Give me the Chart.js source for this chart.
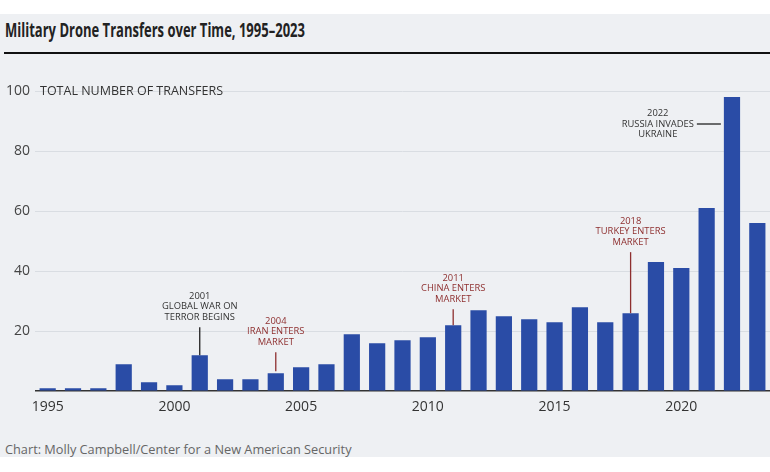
<!DOCTYPE html>
<html>
<head>
<meta charset="utf-8">
<script src="https://cdn.jsdelivr.net/npm/chart.js@4.4.1/dist/chart.umd.min.js"></script>
<style>
  body { margin: 0; width: 770px; height: 472px; overflow: hidden; background: #fff; font-family: "Open Sans", sans-serif; }
  #panel { position: absolute; left: 0; top: 14px; width: 770px; height: 443px; background: #eef0f3; }
  #title { position: absolute; left: 5px; top: 17px; font-size: 19px; font-weight: 700; color: #222; white-space: nowrap; transform-origin: 0 0; }
  #rule { position: absolute; left: 4px; right: 0; top: 52px; height: 2px; background: #111; }
  #credit { position: absolute; left: 5px; top: 440px; font-size: 13px; color: #666; white-space: nowrap; transform-origin: 0 0; }
  #wrap { position: absolute; left: 0; top: 0; width: 770px; height: 472px; }
</style>
</head>
<body>
<div id="panel"></div>
<div id="title">Military Drone Transfers over Time, 1995–2023</div>
<div id="rule"></div>
<div id="credit">Chart: Molly Campbell/Center for a New American Security</div>
<div id="wrap"><canvas id="drones" width="770" height="472"></canvas></div>

<script>
// donnees
const years = ['1995','1996','1997','1998','1999','2000','2001','2002','2003','2004',
               '2005','2006','2007','2008','2009','2010','2011','2012','2013','2014',
               '2015','2016','2017','2018','2019','2020','2021','2022','2023'];
const transfers = [1, 1, 1, 9, 3, 2, 12, 4, 4, 6,
                   8, 9, 19, 16, 17, 18, 22, 27, 25, 24,
                   23, 28, 23, 26, 43, 41, 61, 98, 56];
const yTicks = [0, 20, 40, 60, 80, 100];
const xTickYears = ['1995', '2000', '2005', '2010', '2015', '2020'];
const axisLabel = 'TOTAL NUMBER OF TRANSFERS';

// evenements annotes
const eventYears = ['2001', '2004', '2011', '2018', '2022'];
const eventTexts = [
  ['2001', 'GLOBAL WAR ON', 'TERROR BEGINS'],
  ['2004', 'IRAN ENTERS', 'MARKET'],
  ['2011', 'CHINA ENTERS', 'MARKET'],
  ['2018', 'TURKEY ENTERS', 'MARKET'],
  ['2022', 'RUSSIA INVADES', 'UKRAINE']
];

// style des annotations (couleur, longueur du trait, cote)
const eventStyle = {
  '2001': { color: '#333', lineColor: '#222', len: 28, gap: 0, side: 'top' },
  '2004': { color: '#8e2f2f', lineColor: '#8e2f2f', len: 19, gap: 2, side: 'top' },
  '2011': { color: '#8e2f2f', lineColor: '#8e2f2f', len: 16, gap: 0, side: 'top' },
  '2018': { color: '#8e2f2f', lineColor: '#8e2f2f', len: 61, gap: 0, side: 'top' },
  '2022': { color: '#333', lineColor: '#222', len: 24, drop: 27, side: 'left' }
};

// titre et source un peu plus etroits (police d'origine condensee)
function squeeze(id, w) {
  const el = document.getElementById(id);
  el.style.transform = 'scaleX(' + (w / el.offsetWidth) + ')';
}
squeeze('title', 300);
squeeze('credit', 347);

const notesPlugin = {
  id: 'notes',
  afterDatasetsDraw(chart) {
    const ctx = chart.ctx;
    const ys = chart.scales.y;
    const bars = chart.getDatasetMeta(0).data;

    ctx.save();
    // titre de l'axe
    ctx.font = '12.5px "Open Sans"';
    ctx.fillStyle = '#333';
    ctx.textAlign = 'left';
    ctx.textBaseline = 'middle';
    ctx.fillText(axisLabel, chart.chartArea.left + 5, ys.getPixelForValue(100));

    ctx.font = '9.4px "Open Sans"';
    ctx.textAlign = 'center';
    eventYears.forEach((yr, i) => {
      const st = eventStyle[yr];
      const bar = bars[years.indexOf(yr)];
      const lines = eventTexts[i];
      const step = 10.6;
      ctx.strokeStyle = st.lineColor;
      ctx.fillStyle = st.color;
      ctx.lineWidth = 1.3;
      if (st.side === 'top') {
        const y1 = bar.y - st.gap;
        const y0 = y1 - st.len;
        ctx.beginPath();
        ctx.moveTo(bar.x, y0);
        ctx.lineTo(bar.x, y1);
        ctx.stroke();
        lines.forEach((t, k) => {
          ctx.fillText(t, bar.x, y0 - 10 - (lines.length - 1 - k) * step);
        });
      } else {
        const xr = bar.x - bar.width / 2 - 3;
        const xl = xr - st.len;
        const ym = bar.y + st.drop;
        ctx.beginPath();
        ctx.moveTo(xl, ym);
        ctx.lineTo(xr, ym);
        ctx.stroke();
        const w = Math.max(...lines.map(t => ctx.measureText(t).width));
        const cx = xl - 3 - w / 2;
        lines.forEach((t, k) => {
          ctx.fillText(t, cx, ym + (k - 1) * step);
        });
      }
    });
    ctx.restore();
  }
};

new Chart(document.getElementById('drones'), {
  type: 'bar',
  data: {
    labels: years,
    datasets: [{
      data: transfers,
      backgroundColor: '#2a4ca6',
      barPercentage: 0.64,
      categoryPercentage: 1
    }]
  },
  options: {
    responsive: false,
    animation: false,
    layout: { padding: { left: 5, right: 0, top: 91, bottom: 50 } },
    plugins: { legend: { display: false }, tooltip: { enabled: false } },
    scales: {
      x: {
        grid: { display: false, drawTicks: false },
        border: { display: false },
        ticks: {
          autoSkip: false,
          maxRotation: 0,
          padding: 7,
          color: '#333',
          font: { family: 'Open Sans', size: 14 },
          callback: function (v) {
            const lab = this.getLabelForValue(v);
            return xTickYears.includes(lab) ? lab : '';
          }
        }
      },
      y: {
        min: 0,
        max: 100,
        afterFit: s => { s.width = 30; },
        afterBuildTicks: s => { s.ticks = yTicks.map(v => ({ value: v })); },
        border: { display: false },
        grid: {
          drawTicks: false,
          color: c => c.tick && c.tick.value === 0 ? '#333' : '#d9dde2',
          lineWidth: c => c.tick && c.tick.value === 0 ? 1.5 : 1
        },
        ticks: {
          padding: 5,
          color: '#444',
          font: { family: 'Open Sans', size: 14 },
          callback: v => v === 0 ? '' : v
        }
      }
    }
  },
  plugins: [notesPlugin]
});
</script>
</body>
</html>
